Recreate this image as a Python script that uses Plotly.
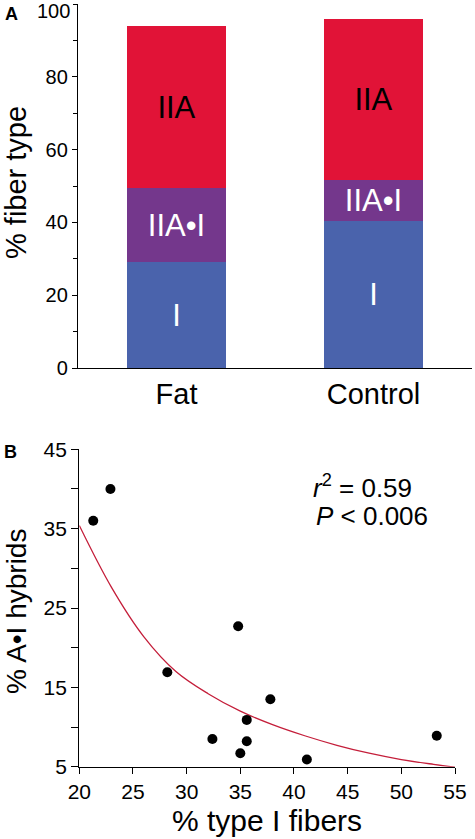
import plotly.graph_objects as go

# ---- Panel A data ----
groups = ["Fat", "Control"]
type_I = [29.2, 40.4]
type_IIA_I = [20.2, 11.2]
type_IIA = [44.6, 44.2]
seg_names = ["I", "IIA•I", "IIA"]
a_ticks = [0, 20, 40, 60, 80]
a_minor = [10, 30, 50, 70, 90, 100]
a_top_label = "100"

# ---- Panel B data ----
pct_type_I = [21.3, 22.9, 28.2, 34.8, 37.8, 35.6, 32.4, 35.6, 35.0, 41.2, 53.3]
pct_hybrid = [36.0, 40.0, 16.9, 22.7, 13.5, 10.9, 8.5, 8.2, 6.7, 5.9, 8.9]
# fitted curve
fit_x = [20, 23, 26, 29, 32, 35, 38, 41, 44, 47, 50, 53, 55]
fit_y = [35.4, 27.6, 21.4, 17.0, 14.2, 12.0, 10.3, 8.9, 7.7, 6.7, 5.9, 5.3, 4.95]
b_xticks = [20, 25, 30, 35, 40, 45, 50, 55]
b_yticks = [5, 15, 25, 35, 45]
b_yminor = [10, 20, 30, 40]

r2_text = "<i>r</i><sup>2</sup> = 0.59"
p_text = "<i>P</i> < 0.006"

FONT = "Liberation Sans, Arial, Helvetica, sans-serif"
RED = "#E11337"
PURPLE = "#74378C"
BLUE = "#4A63AC"

fig = go.Figure()

for vals, name, col, tcol in [
    (type_I, seg_names[0], BLUE, "white"),
    (type_IIA_I, seg_names[1], PURPLE, "white"),
    (type_IIA, seg_names[2], RED, "black"),
]:
    fig.add_trace(go.Bar(
        x=groups, y=vals, name=name, marker=dict(color=col, line=dict(width=0)),
        width=0.5, text=[name] * len(groups), textposition="inside",
        insidetextanchor="middle", constraintext="none",
        textfont=dict(family=FONT, size=31, color=tcol),
        xaxis="x", yaxis="y", showlegend=False, hoverinfo="skip",
    ))

fig.add_trace(go.Scatter(
    x=fit_x, y=fit_y, mode="lines", line=dict(color="#C41E3A", width=1.3, shape="spline"),
    xaxis="x2", yaxis="y2", showlegend=False, cliponaxis=False,
))
fig.add_trace(go.Scatter(
    x=pct_type_I, y=pct_hybrid, mode="markers",
    marker=dict(color="black", size=10),
    xaxis="x2", yaxis="y2", showlegend=False, cliponaxis=False,
))

W, H = 475, 839
axis_common = dict(showline=True, linecolor="black", linewidth=1.3, showgrid=False,
                   zeroline=False, tickcolor="black", tickwidth=1.2, automargin=False)

fig.update_layout(
    width=W, height=H, margin=dict(l=0, r=0, t=0, b=0),
    paper_bgcolor="white", plot_bgcolor="white", barmode="stack", bargap=0,
    font=dict(family=FONT, color="black"),
    xaxis=dict(domain=[78 / W, 472 / W], anchor="y", range=[-0.5, 1.5],
               type="category", ticks="", showline=True, linecolor="black",
               linewidth=1.3, showgrid=False, zeroline=False, automargin=False,
               tickfont=dict(family=FONT, size=29, color="black")),
    yaxis=dict(domain=[1 - 368 / H, 1 - 4 / H], anchor="x", range=[0, 100],
               tickvals=a_ticks, ticks="outside", ticklen=5,
               minor=dict(tickvals=a_minor, ticks="outside", ticklen=3.5,
                          tickcolor="black", tickwidth=1),
               tickfont=dict(family=FONT, size=20, color="black"),
               **axis_common),
    xaxis2=dict(domain=[79.3 / W, 455 / W], anchor="y2", range=[20, 55],
                tickvals=b_xticks, ticks="outside", ticklen=6,
                tickfont=dict(family=FONT, size=21, color="black"),
                **axis_common),
    yaxis2=dict(domain=[1 - 766.7 / H, 1 - 449.3 / H], anchor="x2", range=[5, 45],
                tickvals=b_yticks, ticks="outside", ticklen=7,
                minor=dict(tickvals=b_yminor, ticks="outside", ticklen=7,
                           tickcolor="black", tickwidth=1.2),
                tickfont=dict(family=FONT, size=21, color="black"),
                **axis_common),
)

# top tick label of panel A, nudged down so it stays on the page
fig.add_annotation(text=a_top_label, x=72 / W, y=1 - 11 / H, xref="paper", yref="paper",
                   xanchor="right", yanchor="middle", showarrow=False,
                   font=dict(family=FONT, size=20, color="black"))

ann = [
    dict(text="<b>A</b>", x=3 / W, y=1 - 14 / H, xanchor="left", yanchor="middle", size=18),
    dict(text="<b>B</b>", x=2 / W, y=1 - 452 / H, xanchor="left", yanchor="middle", size=18),
]
for a in ann:
    fig.add_annotation(text=a["text"], x=a["x"], y=a["y"], xref="paper", yref="paper",
                       xanchor=a["xanchor"], yanchor=a["yanchor"], showarrow=False,
                       font=dict(family=FONT, size=a["size"], color="black"))

# axis titles
fig.add_annotation(text="% fiber type", x=16 / W, y=1 - 183 / H, xref="paper", yref="paper",
                   textangle=-90, showarrow=False, xanchor="center", yanchor="middle",
                   font=dict(family=FONT, size=29, color="black"))
fig.add_annotation(text="% A•I hybrids", x=16 / W, y=1 - 612 / H, xref="paper", yref="paper",
                   textangle=-90, showarrow=False, xanchor="center", yanchor="middle",
                   font=dict(family=FONT, size=28, color="black"))
fig.add_annotation(text="% type I fibers", x=267 / W, y=1 - 820 / H, xref="paper", yref="paper",
                   showarrow=False, xanchor="center", yanchor="middle",
                   font=dict(family=FONT, size=30, color="black"))

# stats text
fig.add_annotation(text=r2_text, x=311 / W, y=1 - 486 / H, xref="paper", yref="paper",
                   showarrow=False, xanchor="left", yanchor="middle",
                   font=dict(family=FONT, size=26, color="black"))
fig.add_annotation(text=p_text, x=314 / W, y=1 - 516 / H, xref="paper", yref="paper",
                   showarrow=False, xanchor="left", yanchor="middle",
                   font=dict(family=FONT, size=26, color="black"))

fig.write_html("out.html", config={"displayModeBar": False},
               post_script="document.body.style.margin='0';document.body.style.padding='0';")
